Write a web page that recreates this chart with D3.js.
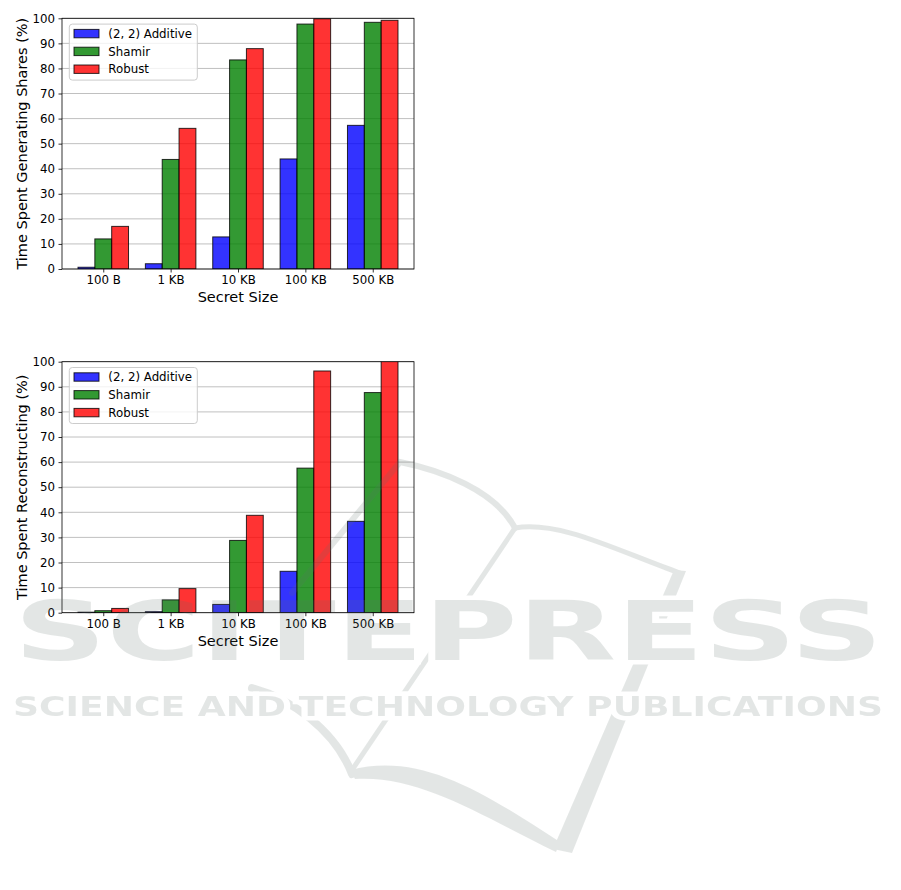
<!DOCTYPE html>
<html>
<head>
<meta charset="utf-8">
<script src="https://cdn.jsdelivr.net/npm/d3@7"></script>
<style>
  html, body { margin: 0; padding: 0; background: #fff; }
  svg { display: block; font-family: "DejaVu Sans", sans-serif; }
</style>
</head>
<body>
<svg id="chart" width="901" height="890"></svg>
<script>
// ---------------- DATA ----------------
const categories = ["100 B", "1 KB", "10 KB", "100 KB", "500 KB"];
const seriesNames = ["(2, 2) Additive", "Shamir", "Robust"];
const seriesColors = ["#0000ff", "#008000", "#ff0000"];

const genAdditive = [0.7, 2.1, 12.8, 43.9, 57.3];
const genShamir   = [12.0, 43.7, 83.4, 97.7, 98.4];
const genRobust   = [17.0, 56.1, 87.9, 99.8, 99.2];

const recAdditive = [0.2, 0.4, 3.3, 16.5, 36.4];
const recShamir   = [0.8, 5.1, 28.8, 57.6, 87.7];
const recRobust   = [1.7, 9.6, 38.8, 96.3, 100.5];

const yTicks = [0, 10, 20, 30, 40, 50, 60, 70, 80, 90, 100];
const xLabel = "Secret Size";
const yLabelGen = "Time Spent Generating Shares (%)";
const yLabelRec = "Time Spent Reconstructing (%)";

// ---------------- DRAW ----------------
const svg = d3.select("#chart");
const defs = svg.append("defs");

function drawPanel(id, top, bottom, yLabel, values) {
  const left = 62, right = 414;
  const g = svg.append("g");

  const x = d3.scaleLinear().domain([-0.6125, 4.6125]).range([left, right]);
  const y = d3.scaleLinear().domain([0, 100]).range([bottom, top]);
  const barW = 0.25;

  defs.append("clipPath").attr("id", "clip" + id)
    .append("rect").attr("x", left).attr("y", top)
    .attr("width", right - left).attr("height", bottom - top);

  // grid
  g.append("g").selectAll("line").data(yTicks).join("line")
    .attr("x1", left).attr("x2", right)
    .attr("y1", d => y(d)).attr("y2", d => y(d))
    .attr("stroke", "#b0b0b0").attr("stroke-width", 0.8);

  // bars
  const bars = g.append("g").attr("clip-path", `url(#clip${id})`);
  values.forEach((vals, k) => {
    bars.append("g").selectAll("rect").data(vals).join("rect")
      .attr("x", (d, i) => x(i + (k - 1) * barW - barW / 2))
      .attr("width", x(barW) - x(0))
      .attr("y", d => y(d))
      .attr("height", d => y(0) - y(d))
      .attr("fill", seriesColors[k]).attr("fill-opacity", 0.8)
      .attr("stroke", "#000").attr("stroke-opacity", 0.8).attr("stroke-width", 1);
  });

  // y axis
  const yAxis = d3.axisLeft(y).tickValues(yTicks).tickSize(3.5).tickPadding(3.5);
  const ya = g.append("g").attr("transform", `translate(${left},0)`).call(yAxis);
  ya.select(".domain").remove();
  ya.selectAll("line").attr("stroke", "#000").attr("stroke-width", 0.8);
  ya.selectAll("text").attr("font-size", "11.8px").attr("fill", "#000")
    .attr("font-family", "DejaVu Sans");

  // x axis
  const xAxis = d3.axisBottom(x).tickValues(d3.range(categories.length))
    .tickFormat(i => categories[i]).tickSize(3.5).tickPadding(3.5);
  const xa = g.append("g").attr("transform", `translate(0,${bottom})`).call(xAxis);
  xa.select(".domain").remove();
  xa.selectAll("line").attr("stroke", "#000").attr("stroke-width", 0.8);
  xa.selectAll("text").attr("font-size", "11.8px").attr("fill", "#000")
    .attr("font-family", "DejaVu Sans");

  // spines
  g.append("rect").attr("x", left).attr("y", top)
    .attr("width", right - left).attr("height", bottom - top)
    .attr("fill", "none").attr("stroke", "#000").attr("stroke-width", 0.8);

  // axis labels
  g.append("text").attr("x", (left + right) / 2).attr("y", bottom + 33)
    .attr("text-anchor", "middle").attr("font-size", "14.5px").text(xLabel);
  g.append("text")
    .attr("transform", `translate(27,${(top + bottom) / 2}) rotate(-90)`)
    .attr("text-anchor", "middle").attr("font-size", "14.5px").text(yLabel);

  // legend
  const lx = 69.3, ly = top + 5.8;
  const lg = g.append("g");
  lg.append("rect").attr("x", lx).attr("y", ly).attr("width", 128).attr("height", 56)
    .attr("rx", 3).attr("fill", "#fff").attr("fill-opacity", 0.8)
    .attr("stroke", "#cccccc").attr("stroke-width", 1);
  seriesNames.forEach((name, k) => {
    const cy = ly + 9.5 + k * 17.8;
    lg.append("rect").attr("x", lx + 4.7).attr("y", cy - 4.2)
      .attr("width", 25).attr("height", 8.4)
      .attr("fill", seriesColors[k]).attr("fill-opacity", 0.8)
      .attr("stroke", "#000").attr("stroke-opacity", 0.8).attr("stroke-width", 1);
    lg.append("text").attr("x", lx + 39).attr("y", cy).attr("dy", "0.36em")
      .attr("font-size", "11.8px").text(name);
  });
}

drawPanel("gen", 18.3, 269, yLabelGen, [genAdditive, genShamir, genRobust]);
drawPanel("rec", 361.7, 612.7, yLabelRec, [recAdditive, recShamir, recRobust]);

// ---------------- WATERMARK (publisher overlay) ----------------
const wmColor = "#5f706a", wmOpacity = 0.17;
const mask = defs.append("mask").attr("id", "wmMask")
  .attr("maskUnits", "userSpaceOnUse")
  .attr("x", 0).attr("y", 0).attr("width", 901).attr("height", 890);
mask.append("rect").attr("width", 901).attr("height", 890).attr("fill", "#fff");

function wmText(sel, fill, stroke, sw) {
  sel.append("text").attr("x", 14).attr("y", 660)
    .attr("textLength", 869).attr("lengthAdjust", "spacingAndGlyphs")
    .attr("font-size", "82px").attr("font-weight", "bold")
    .attr("font-family", "DejaVu Sans")
    .attr("fill", fill).attr("stroke", stroke).attr("stroke-width", sw)
    .text("SCITEPRESS");
  sel.append("text").attr("x", 13).attr("y", 716)
    .attr("textLength", 870).attr("lengthAdjust", "spacingAndGlyphs")
    .attr("font-size", "26px").attr("font-weight", "bold")
    .attr("font-family", "DejaVu Sans")
    .attr("fill", fill).attr("stroke", stroke).attr("stroke-width", sw)
    .text("SCIENCE AND TECHNOLOGY PUBLICATIONS");
}
wmText(mask, "#000", "#000", 9);

const wm = svg.append("g").attr("opacity", wmOpacity).attr("pointer-events", "none");
const logo = wm.append("g").attr("mask", "url(#wmMask)")
  .attr("fill", "none").attr("stroke", wmColor).attr("stroke-linecap", "round");
logo.append("path").attr("stroke-width", 6)
  .attr("d", "M292,593 L400,462 C440,470 495,490 515,528");
logo.append("path").attr("stroke-width", 5)
  .attr("d", "M515,528 C560,520 620,552 680,573");
logo.append("path").attr("stroke", "none").attr("fill", wmColor)
  .attr("d", "M674,570 L686,571 L572,853 L553,849 Z");
logo.append("path").attr("stroke-width", 5)
  .attr("d", "M515,528 L352,770");
logo.append("path").attr("stroke-width", 8)
  .attr("d", "M252,688 C290,698 335,730 352,774");
logo.append("path").attr("stroke", "none").attr("fill", wmColor)
  .attr("d", "M350,770 C420,752 480,790 560,842 L556,852 C480,815 420,775 355,779 Z");
wmText(wm, wmColor, "none", 0);
</script>
</body>
</html>
